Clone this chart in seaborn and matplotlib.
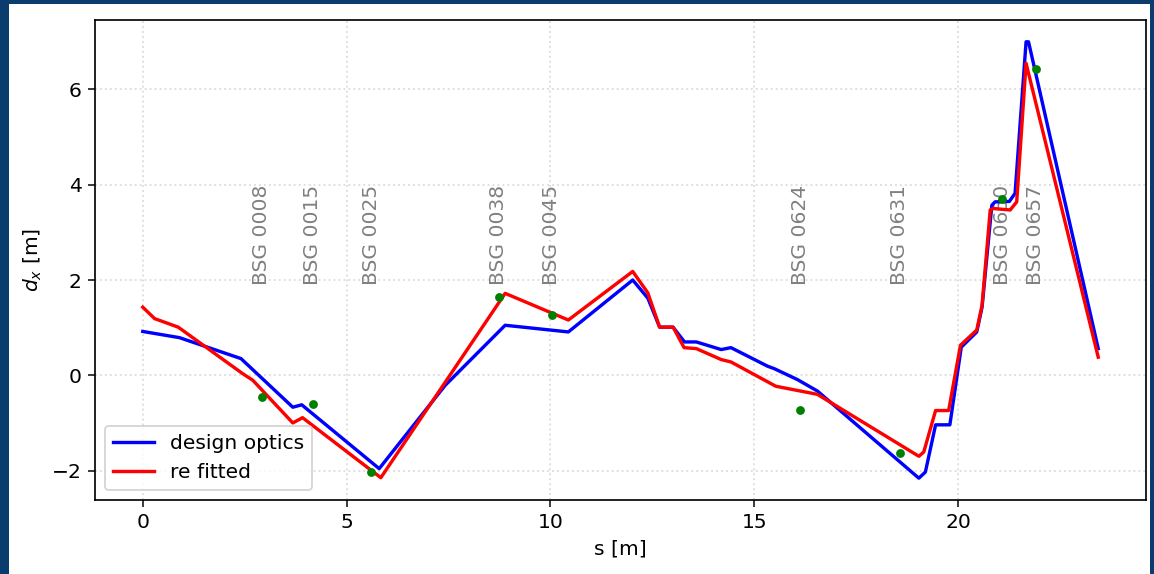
import numpy as np
import matplotlib
matplotlib.use("Agg")
import matplotlib.pyplot as plt
from matplotlib.patches import Rectangle
import seaborn as sns

# Dispersion along the beam line: design optics vs. refitted model
s_design = [0.00, 0.90, 2.41, 3.68, 3.90, 5.80, 7.42, 8.89, 10.44, 12.02, 12.39,
            12.68, 13.01, 13.29, 13.58, 14.19, 14.43, 15.33, 15.49, 16.06, 16.55,
            19.04, 19.20, 19.45, 19.80, 20.08, 20.46, 20.59, 20.83, 20.91, 21.26,
            21.40, 21.67, 21.73, 23.44]
dx_design = [0.92, 0.79, 0.35, -0.67, -0.62, -1.96, -0.21, 1.05, 0.91, 2.00, 1.62,
             1.01, 1.01, 0.70, 0.70, 0.54, 0.58, 0.19, 0.14, -0.09, -0.33,
             -2.16, -2.03, -1.04, -1.04, 0.59, 0.91, 1.43, 3.57, 3.64, 3.65,
             3.82, 7.00, 7.00, 0.56]

s_fit = [0.00, 0.29, 0.87, 2.45, 2.70, 3.68, 3.92, 4.33, 5.84, 8.89, 10.44,
         12.02, 12.39, 12.68, 13.01, 13.28, 13.58, 14.19, 14.43, 15.53, 16.55,
         19.04, 19.16, 19.45, 19.77, 20.06, 20.46, 20.59, 20.79, 20.87, 21.28,
         21.44, 21.67, 23.44]
dx_fit = [1.43, 1.19, 1.01, 0.035, -0.105, -1.00, -0.89, -1.16, -2.15, 1.72, 1.16,
          2.18, 1.73, 1.01, 1.01, 0.58, 0.56, 0.33, 0.28, -0.23, -0.40,
          -1.70, -1.61, -0.74, -0.74, 0.63, 0.95, 1.47, 3.47, 3.50, 3.47,
          3.64, 6.55, 0.38]

# Screen monitors and measured dispersion
bsg_names = ["BSG 0008", "BSG 0015", "BSG 0025", "BSG 0038", "BSG 0045",
             "BSG 0624", "BSG 0631", "BSG 0650", "BSG 0657"]
bsg_s = [2.92, 4.17, 5.61, 8.73, 10.03, 16.13, 18.57, 21.08, 21.91]
bsg_dx = [-0.455, -0.61, -2.03, 1.645, 1.27, -0.735, -1.63, 3.69, 6.42]

DPI = 135
FS = 10.8
plt.rcParams.update({
    "font.size": FS,
    "axes.labelsize": FS,
    "xtick.labelsize": FS,
    "ytick.labelsize": FS,
    "legend.fontsize": FS,
})

fig = plt.figure(figsize=(1154 / DPI, 574 / DPI), dpi=DPI)
fig.patch.set_facecolor("#0a3c6e")
fig.add_artist(Rectangle((9 / 1154, 0), (1150 - 9) / 1154, (574 - 4) / 574,
                         transform=fig.transFigure, facecolor="white",
                         edgecolor="none", zorder=-1))

ax = fig.add_axes([95 / 1154, 1 - 500 / 574, (1146 - 95) / 1154, (500 - 20) / 574])
ax.set_facecolor("white")

sns.lineplot(x=s_design, y=dx_design, sort=False, estimator=None, color="blue",
             label="design optics", ax=ax, linewidth=1.8)
sns.lineplot(x=s_fit, y=dx_fit, sort=False, estimator=None, color="red",
             label="re fitted", ax=ax, linewidth=1.8)
sns.scatterplot(x=bsg_s, y=bsg_dx, color="green", s=22, linewidth=0, ax=ax,
                zorder=3, legend=False)

for name, s in zip(bsg_names, bsg_s):
    ax.text(s, 1.9, name, rotation=90, ha="center", va="bottom",
            color="gray", fontsize=FS, zorder=1.6)

ax.grid(True, linestyle=":", color="#dddddd", linewidth=1.0)
ax.set_xlabel("s [m]")
ax.set_ylabel("$d_x$ [m]")
ax.legend(loc="lower left")

ax.set_xticks([0, 5, 10, 15, 20])
ax.set_yticks([-2, 0, 2, 4, 6])
for sp in ax.spines.values():
    sp.set_color("black")
    sp.set_linewidth(0.9)

fig.savefig("out.png", dpi=DPI, facecolor=fig.get_facecolor())
